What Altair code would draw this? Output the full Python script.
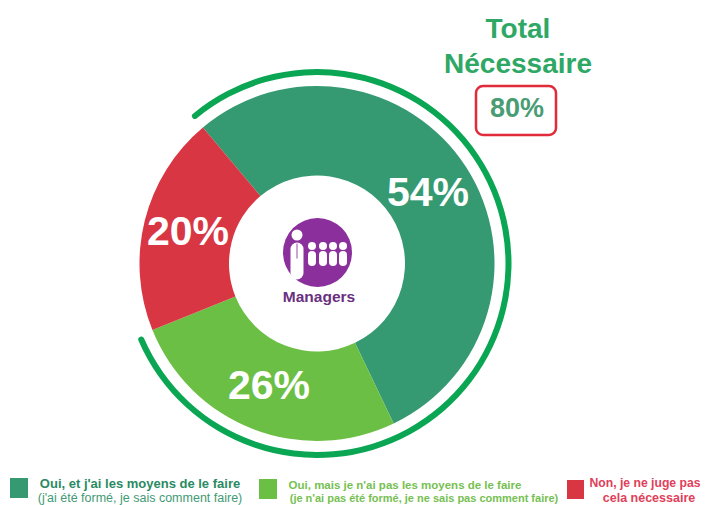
import math
import altair as alt
import pandas as pd

categories = ["Oui, et j'ai les moyens", "Oui, mais pas les moyens", "Non"]
values = [54, 26, 20]
colors = ["#359a71", "#6cbf45", "#d93644"]
total_value = 80
total_title = ["Total", "Nécessaire"]
center_label = "Managers"
legend_1 = ["Oui, et j'ai les moyens de le faire", "(j'ai été formé, je sais comment faire)"]
legend_2 = ["Oui, mais je n'ai pas les moyens de le faire", "(je n'ai pas été formé, je ne sais pas comment faire)"]
legend_3 = ["Non, je ne juge pas", "cela nécessaire"]

FONT = "Liberation Sans"
OX, OY = 8, 8
CX, CY = 317, 263.5
START = math.radians(-40)
TWO_PI = 2 * math.pi


def px(v):
    return alt.value(v - OX)


def py(v):
    return alt.value(v - OY)


def dot():
    return alt.Chart(pd.DataFrame({"a": [1]}))


def text(s, x, y, size, color, weight="bold", **kw):
    return alt.Chart(pd.DataFrame({"t": [s]})).mark_text(
        font=FONT, fontSize=size, fontWeight=weight, color=color,
        align="center", baseline="middle", **kw
    ).encode(text="t:N", x=px(x), y=py(y))


def box(x1, x2, y1, y2, **kw):
    return dot().mark_rect(**kw).encode(x=px(x1), x2=px(x2), y=py(y1), y2=py(y2))


def circle(x, y, r, color):
    return dot().mark_arc(theta=0, theta2=TWO_PI, radius=r, radius2=0, color=color).encode(
        x=px(x), y=py(y))


def bar(x, y1, y2, w, color):
    return dot().mark_rule(color=color, strokeWidth=w, strokeCap="round").encode(
        x=px(x), y=py(y1), y2=py(y2))


df = pd.DataFrame({"cat": categories, "val": values, "ord": [0, 1, 2]})

donut = alt.Chart(df).mark_arc(radius=177.5, radius2=88).encode(
    theta=alt.Theta("val:Q", stack=True,
                    scale=alt.Scale(domain=[0, 100], range=[START, START + TWO_PI])),
    order=alt.Order("ord:Q"),
    color=alt.Color("cat:N", sort=categories,
                    scale=alt.Scale(domain=categories, range=colors), legend=None),
    x=px(CX), y=py(CY),
)

ring_start = TWO_PI + math.radians(-40.5)
ring = dot().mark_arc(
    theta=ring_start, theta2=ring_start + TWO_PI * total_value / 100,
    radius=194.5, radius2=188.5, cornerRadius=3, color="#0aa653",
).encode(x=px(CX), y=py(CY))

layers = [donut, ring]

layers += [
    text(f"{values[0]}%", 428, 194, 41, "white"),
    text(f"{values[1]}%", 269, 387, 41, "white"),
    text(f"{values[2]}%", 188, 233, 41, "white"),
    text(total_title[0], 518, 30, 28, "#2fa866"),
    text(total_title[1], 518, 65, 28, "#2fa866"),
    box(476, 556, 86, 135, fill="white", stroke="#e02b3a", strokeWidth=2.5, cornerRadius=7),
    text(f"{total_value}%", 517, 109, 27, "#4a9c74"),
]

# centre icon
layers += [circle(317.5, 252.5, 34.5, "#8a2f9b"), circle(297, 235, 5.5, "white"),
           bar(297, 249, 273, 13, "white"), bar(297, 244, 258, 1.5, "#b98ac4")]
for hx in (312, 323, 333, 343):
    layers += [circle(hx, 246, 4, "white"), bar(hx, 255, 262, 8, "white")]
layers.append(text(center_label, 319, 297, 15.5, "#6a2f80"))

# legend
layers += [
    box(10, 28, 478, 498, fill=colors[0]),
    text(legend_1[0], 140, 484, 13, "#2a8a63"),
    text(legend_1[1], 140, 498, 12.5, "#3f9a75", weight="normal"),
    box(259, 277, 479, 499, fill=colors[1]),
    text(legend_2[0], 405, 486, 11.5, "#76bf52"),
    text(legend_2[1], 424, 499, 11, "#76bf52"),
    box(567, 584, 480, 499, fill=colors[2]),
    text(legend_3[0], 645, 483, 12.2, "#e0405a"),
    text(legend_3[1], 649, 498, 12.5, "#e0405a"),
]

chart = alt.layer(*layers).resolve_scale(theta="independent", color="independent").properties(
    width=694, height=497, padding=0, autosize=alt.AutoSizeParams(type="none"),
    background="white",
).configure_view(stroke=None)

chart.save("out.html", embed_options={"renderer": "svg", "actions": False})
